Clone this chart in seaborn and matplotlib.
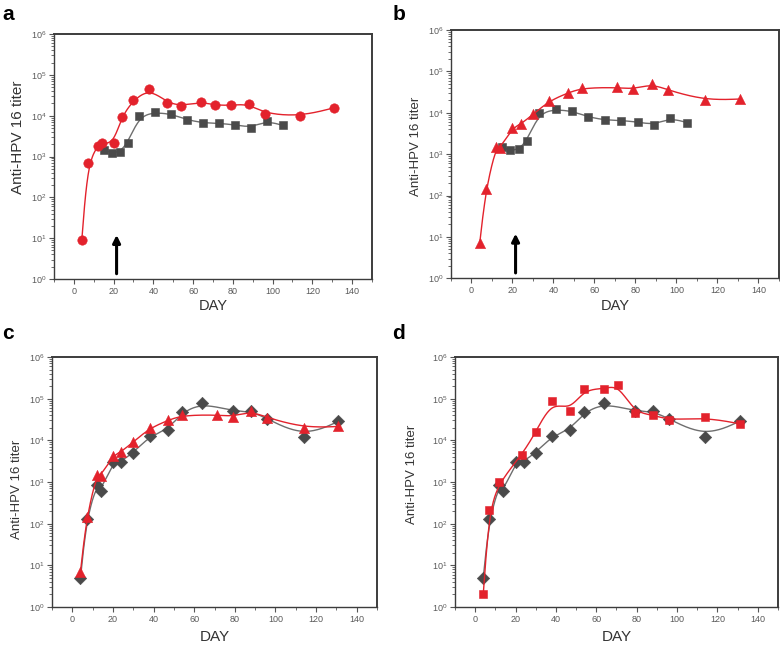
import matplotlib
matplotlib.use("Agg")

import matplotlib.pyplot as plt
import numpy as np
import pandas as pd
import seaborn as sns
from matplotlib.ticker import LogLocator, MultipleLocator, NullFormatter


RED = "#e3222c"
GRAY = "#4a4a4a"
LINE_GRAY = "#6e6e6e"

# red circles (panel a)
days_circle = [4, 7, 12, 14, 20, 24, 30, 38, 47, 54, 64, 71, 79, 88, 96, 114, 131]
titer_circle = [9, 700, 1800, 2100, 2100, 9500, 24000, 46000, 21000, 17300,
                22000, 18000, 18000, 19600, 11200, 9600, 15700]

# gray squares (panels a, b)
days_square_gray = [15, 19, 23, 27, 33, 41, 49, 57, 65, 73, 81, 89, 97, 105]
titer_square_gray = [1450, 1230, 1300, 2100, 10000, 12000, 11000, 7900, 6700,
                     6500, 6000, 5100, 7500, 5800]

# red triangles (panels b, c)
days_triangle = [4, 7, 12, 14, 20, 24, 30, 38, 47, 54, 71, 79, 88, 96, 114, 131]
titer_triangle = [7, 142, 1500, 1400, 4300, 5300, 9100, 19500, 30000, 40000,
                  41000, 37000, 50000, 35000, 20000, 21500]

# gray diamonds (panels c, d)
days_diamond = [4, 7, 12, 14, 20, 24, 30, 38, 47, 54, 64, 79, 88, 96, 114, 131]
titer_diamond = [5, 130, 870, 600, 3000, 3100, 5100, 12500, 18000, 47000,
                 79000, 50000, 50000, 33000, 12000, 28600]

# red squares (panel d)
days_square_red = [4, 7, 12, 23, 30, 38, 47, 54, 64, 71, 79, 88, 96, 114, 131]
titer_square_red = [2, 218, 1000, 4400, 15500, 87000, 51500, 170000, 170000,
                    218000, 45500, 41500, 30000, 35600, 25000]

boost_day = 21.5


def bspline(days, titer, steps=24):
    """Cubic B-spline through log titer (Origin style connect line)."""
    pts = np.column_stack([np.asarray(days, float), np.log10(titer)])
    pts = np.vstack([pts[:1], pts[:1], pts, pts[-1:], pts[-1:]])
    t = np.linspace(0, 1, steps, endpoint=False)[:, None]
    b0 = (1 - t) ** 3 / 6
    b1 = (3 * t**3 - 6 * t**2 + 4) / 6
    b2 = (-3 * t**3 + 3 * t**2 + 3 * t + 1) / 6
    b3 = t**3 / 6
    segs = [b0 * pts[i] + b1 * pts[i + 1] + b2 * pts[i + 2] + b3 * pts[i + 3]
            for i in range(len(pts) - 3)]
    curve = np.vstack(segs + [pts[-1:]])
    return pd.DataFrame({"day": curve[:, 0], "titer": 10 ** curve[:, 1]})


def draw_series(ax, days, titer, color, line_color, marker, size, z):
    curve = bspline(days, titer)
    sns.lineplot(data=curve, x="day", y="titer", sort=False, estimator=None,
                 color=line_color, lw=1.0, ax=ax, zorder=z)
    pts = pd.DataFrame({"day": days, "titer": titer})
    sns.scatterplot(data=pts, x="day", y="titer", marker=marker, s=size,
                    color=color, edgecolor=color, linewidth=0.4, ax=ax,
                    zorder=z + 1, legend=False)


def style_axes(ax, label, ylab_xy, ylab_size, day_y, day_size):
    ax.set_xlim(-10, 150)
    ax.set_ylim(1, 1e6)
    ax.xaxis.set_major_locator(MultipleLocator(20))
    ax.xaxis.set_minor_locator(MultipleLocator(10))
    ax.yaxis.set_major_locator(LogLocator(base=10, numticks=10))
    ax.yaxis.set_minor_locator(LogLocator(base=10, subs=np.arange(2, 10), numticks=10))
    ax.yaxis.set_minor_formatter(NullFormatter())
    ax.tick_params(which="major", direction="out", length=3.5, width=0.8,
                   color="#555555", labelsize=6.5, labelcolor="#5a5a5a", pad=2)
    ax.tick_params(which="minor", direction="out", length=2, width=0.6,
                   color="#555555")
    for side, sp in ax.spines.items():
        sp.set_visible(True)
        sp.set_color("#3c3c3c")
        sp.set_linewidth(1.4 if side in ("top", "right") else 1.0)
    ax.set_ylabel("Anti-HPV 16 titer", fontsize=ylab_size, color="#333333")
    ax.yaxis.set_label_coords(*ylab_xy)
    ax.set_xlabel("DAY", fontsize=day_size, color="#333333", va="center")
    ax.xaxis.set_label_coords(0.5, day_y)
    ax.text(label[1], label[2], label[0], transform=ax.figure.transFigure,
            fontsize=15, fontweight="bold", ha="left", va="top", color="black")


def arrow(ax):
    ax.annotate("", xy=(boost_day, 12), xytext=(boost_day, 1.35),
                arrowprops=dict(arrowstyle="-|>", lw=2.2, color="black",
                                mutation_scale=11, shrinkA=0, shrinkB=0))


sns.set_style("ticks")
plt.rcParams["font.family"] = ["Liberation Sans", "DejaVu Sans"]
plt.rcParams["mathtext.fontset"] = "custom"
plt.rcParams["mathtext.rm"] = "Liberation Sans"

fig = plt.figure(figsize=(7.8, 6.45), dpi=100)
ax_a = fig.add_axes([0.0692, 0.5674, 0.4077, 0.3798])
ax_b = fig.add_axes([0.5782, 0.5685, 0.4205, 0.3850])
ax_c = fig.add_axes([0.0667, 0.0589, 0.4167, 0.3876])
ax_d = fig.add_axes([0.5833, 0.0589, 0.4140, 0.3876])
for ax in (ax_a, ax_b, ax_c, ax_d):
    ax.set_yscale("log")

# a
draw_series(ax_a, days_square_gray, titer_square_gray, GRAY, LINE_GRAY, "s", 36, 2)
draw_series(ax_a, days_circle, titer_circle, RED, RED, "o", 46, 4)
arrow(ax_a)
style_axes(ax_a, ("a", 0.003, 0.992), (-0.09, 0.58), 11, -0.11, 10.5)

# b
draw_series(ax_b, days_square_gray, titer_square_gray, GRAY, LINE_GRAY, "s", 36, 2)
draw_series(ax_b, days_triangle, titer_triangle, RED, RED, "^", 54, 4)
arrow(ax_b)
style_axes(ax_b, ("b", 0.503, 0.992), (-0.088, 0.53), 9.5, -0.11, 10.5)

# c
draw_series(ax_c, days_diamond, titer_diamond, GRAY, LINE_GRAY, "D", 40, 2)
draw_series(ax_c, days_triangle, titer_triangle, RED, RED, "^", 54, 4)
style_axes(ax_c, ("c", 0.003, 0.498), (-0.089, 0.47), 9.5, -0.12, 11)

# d
draw_series(ax_d, days_diamond, titer_diamond, GRAY, LINE_GRAY, "D", 40, 2)
draw_series(ax_d, days_square_red, titer_square_red, RED, RED, "s", 38, 4)
style_axes(ax_d, ("d", 0.503, 0.498), (-0.115, 0.53), 9.5, -0.12, 11)

fig.savefig("out.png", dpi=100)
